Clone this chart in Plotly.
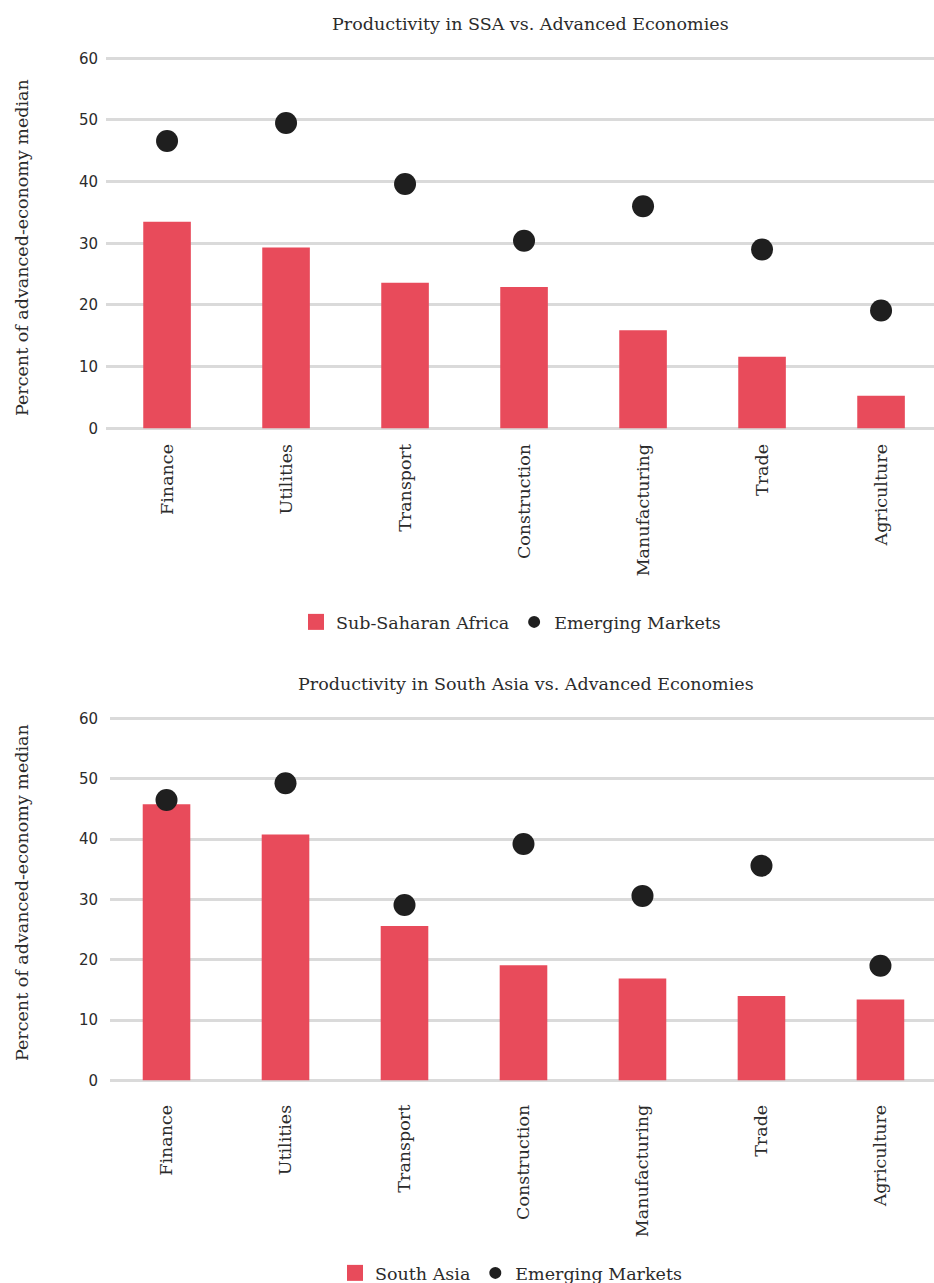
import plotly.graph_objects as go

categories = ["Finance", "Utilities", "Transport", "Construction", "Manufacturing", "Trade", "Agriculture"]
ssa_values = [33.5, 29.3, 23.6, 22.9, 15.9, 11.6, 5.3]
em_values_top = [46.6, 49.5, 39.6, 30.4, 36.0, 29.0, 19.1]
south_asia_values = [45.8, 40.8, 25.6, 19.1, 16.9, 14.0, 13.4]
em_values_bottom = [46.5, 49.3, 29.1, 39.2, 30.6, 35.6, 19.0]
y_ticks = [0, 10, 20, 30, 40, 50, 60]

title_top = "Productivity in SSA vs. Advanced Economies"
title_bottom = "Productivity in South Asia vs. Advanced Economies"
y_title = "Percent of advanced-economy median"

W, H = 934, 1283
RED = "#E84B5B"
DOT = "#1f1f1f"
GRID = "#dadada"
TXT = "#2b2b2b"
SERIF = "DejaVu Serif"
SANS = "DejaVu Sans"
FS = 17.5


def px_x(p):
    return p / W


def px_y(p):
    return 1 - p / H


fig = go.Figure()

# top chart
fig.add_trace(go.Bar(x=categories, y=ssa_values, width=0.4, marker=dict(color=RED, line=dict(width=0)),
                     xaxis="x", yaxis="y", showlegend=False))
fig.add_trace(go.Scatter(x=categories, y=em_values_top, mode="markers",
                         marker=dict(color=DOT, size=22), xaxis="x", yaxis="y", showlegend=False))
fig.add_trace(go.Scatter(x=[None], y=[None], mode="markers", name="Sub-Saharan Africa",
                         marker=dict(symbol="square", color=RED, size=16), xaxis="x", yaxis="y",
                         legend="legend"))
fig.add_trace(go.Scatter(x=[None], y=[None], mode="markers", name="Emerging Markets",
                         marker=dict(symbol="circle", color=DOT, size=12), xaxis="x", yaxis="y",
                         legend="legend"))

# bottom chart
fig.add_trace(go.Bar(x=categories, y=south_asia_values, width=0.4, marker=dict(color=RED, line=dict(width=0)),
                     xaxis="x2", yaxis="y2", showlegend=False))
fig.add_trace(go.Scatter(x=categories, y=em_values_bottom, mode="markers",
                         marker=dict(color=DOT, size=22), xaxis="x2", yaxis="y2", showlegend=False))
fig.add_trace(go.Scatter(x=[None], y=[None], mode="markers", name="South Asia",
                         marker=dict(symbol="square", color=RED, size=16), xaxis="x2", yaxis="y2",
                         legend="legend2"))
fig.add_trace(go.Scatter(x=[None], y=[None], mode="markers", name="Emerging Markets",
                         marker=dict(symbol="circle", color=DOT, size=12), xaxis="x2", yaxis="y2",
                         legend="legend2"))

xcommon = dict(type="category", showgrid=False, zeroline=False, showline=False, ticks="",
               tickangle=-90, tickfont=dict(family=SERIF, size=17.5, color=TXT), fixedrange=True)
ycommon = dict(tickvals=y_ticks, showgrid=True, gridcolor=GRID, gridwidth=2.5, zeroline=False,
               showline=False, ticks="", tickfont=dict(family=SANS, size=15, color=TXT), fixedrange=True)

fig.update_layout(
    width=W, height=H,
    margin=dict(l=0, r=0, t=0, b=0, autoexpand=False),
    paper_bgcolor="white", plot_bgcolor="white",
    bargap=0.6,
    xaxis=dict(xcommon, domain=[px_x(106), 1], range=[-0.513, 6.445], anchor="y",
               ticklabelstandoff=5),
    yaxis=dict(ycommon, domain=[px_y(434.5), px_y(52.1)], range=[-1, 61], anchor="x",
               ticklabelstandoff=7),
    xaxis2=dict(xcommon, domain=[px_x(110), 1], range=[-0.475, 6.45], anchor="y2",
                ticklabelstandoff=14),
    yaxis2=dict(ycommon, domain=[px_y(1086.3), px_y(712.7)], range=[-1, 61], anchor="x2",
                ticklabelstandoff=11),
    legend=dict(orientation="h", x=px_x(511), xanchor="center", y=px_y(622), yanchor="middle",
                font=dict(family=SERIF, size=FS, color=TXT), itemsizing="trace", bgcolor="rgba(0,0,0,0)"),
    legend2=dict(orientation="h", x=px_x(511), xanchor="center", y=px_y(1273), yanchor="middle",
                 font=dict(family=SERIF, size=FS, color=TXT), itemsizing="trace", bgcolor="rgba(0,0,0,0)"),
    annotations=[
        dict(text=title_top, x=px_x(530), y=px_y(24), xref="paper", yref="paper", showarrow=False,
             xanchor="center", yanchor="middle", font=dict(family=SERIF, size=FS, color=TXT)),
        dict(text=title_bottom, x=px_x(526), y=px_y(684), xref="paper", yref="paper", showarrow=False,
             xanchor="center", yanchor="middle", font=dict(family=SERIF, size=FS, color=TXT)),
        dict(text=y_title, x=px_x(22), y=px_y(248), xref="paper", yref="paper", showarrow=False,
             textangle=-90, xanchor="center", yanchor="middle", font=dict(family=SERIF, size=FS, color=TXT)),
        dict(text=y_title, x=px_x(22), y=px_y(893), xref="paper", yref="paper", showarrow=False,
             textangle=-90, xanchor="center", yanchor="middle", font=dict(family=SERIF, size=FS, color=TXT)),
    ],
)

fig.write_html("out.html")
